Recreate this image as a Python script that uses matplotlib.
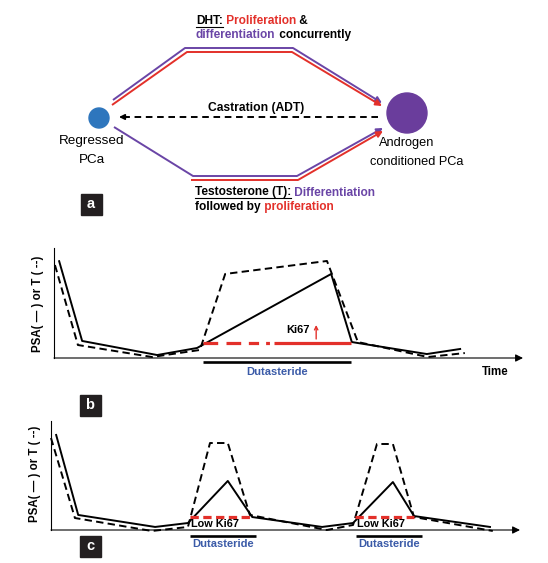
import matplotlib
matplotlib.use('Agg')
import matplotlib.pyplot as plt
from matplotlib.patches import Circle, Rectangle

plt.rcParams['font.family'] = ['Liberation Sans', 'DejaVu Sans']

# ---- panel a: schematic paths (pixel units of the panel) ----
dht_purple_x = [113, 185, 293, 382]
dht_purple_y = [100, 48, 48, 103]
dht_red_x = [112, 187, 292, 382]
dht_red_y = [105, 52, 52, 106]
t_purple_x = [114, 193, 297, 383]
t_purple_y = [127, 176, 176, 128]
t_red_x = [191, 298, 383]
t_red_y = [180, 180, 131]
adt_x = [378, 119]
adt_y = [117, 117]

# ---- panel b: single dutasteride course ----
b_psa_t = [1.1, 6.0, 22.0, 30.5, 59.1, 63.5, 79.5, 86.6]
b_psa_v = [88, 15.5, 2.7, 9.1, 76.4, 14.5, 3.6, 8.2]
b_t_t = [0.2, 5.1, 20.9, 31.1, 36.5, 58.2, 64.8, 79.7, 87.6]
b_t_v = [84.5, 11.8, 0.9, 7.3, 76.4, 88.2, 14.5, 0.9, 4.5]
b_duta = (31.8, 63.3)
b_ki67_switch = 46.9
b_ki67_level = 13.6

# ---- panel c: intermittent dutasteride ----
c_psa_t = [1.1, 5.8, 22.2, 29.2, 37.7, 42.9, 57.8, 64.4, 72.9, 77.4, 93.6]
c_psa_v = [87.2, 13.8, 2.8, 6.4, 45.0, 11.9, 2.8, 6.4, 44.0, 12.8, 2.8]
c_t_t = [0, 5.1, 21.5, 29.2, 33.9, 37.7, 42.4, 58.8, 64.4, 69.5, 72.9, 77.4, 94.2]
c_t_v = [84.4, 11.0, -0.9, 2.8, 79.8, 79.8, 13.8, 0, 4.6, 78.9, 78.9, 11.9, -0.9]
c_duta = [(29.6, 43.7), (65.0, 79.0)]
c_ki67 = [(29.6, 42.9), (64.8, 77.4)]
c_ki67_level = 11.9

purple = '#6a45a6'
red = '#e3302a'
duta_blue = '#3b5ba8'
W, H = 548, 563

fig = plt.figure(figsize=(W / 100, H / 100), dpi=100)
fig.patch.set_facecolor('white')
canvas = fig.add_axes([0, 0, 1, 1])
canvas.set_xlim(0, W)
canvas.set_ylim(H, 0)
canvas.axis('off')

# paths with arrowheads on the last segment
def arrow_path(xs, ys, color):
    canvas.plot(xs[:-1], ys[:-1], color=color, lw=1.4, solid_capstyle='butt')
    canvas.annotate('', xy=(xs[-1], ys[-1]), xytext=(xs[-2], ys[-2]),
                    arrowprops=dict(arrowstyle='-|>', color=color, lw=1.4,
                                    mutation_scale=9, shrinkA=0, shrinkB=0))

arrow_path(dht_purple_x, dht_purple_y, purple)
arrow_path(dht_red_x, dht_red_y, red)
arrow_path(t_purple_x, t_purple_y, purple)
arrow_path(t_red_x, t_red_y, red)

canvas.plot([adt_x[0], adt_x[1] + 6], adt_y, color='black', lw=1.4, dashes=(3.4, 2.4))
canvas.annotate('', xy=(adt_x[1], adt_y[1]), xytext=(adt_x[1] + 7, adt_y[1]),
                arrowprops=dict(arrowstyle='-|>', color='black', lw=1.2,
                                mutation_scale=8, shrinkA=0, shrinkB=0))

canvas.add_patch(Circle((99, 118), 10, color='#2e76bd'))
canvas.add_patch(Circle((407, 113), 20, color='#6a3d9c'))

canvas.text(92, 141, 'Regressed', fontsize=9.7, ha='center', va='center')
canvas.text(92, 160, 'PCa', fontsize=9.7, ha='center', va='center')
canvas.text(407, 143, 'Androgen', fontsize=9.2, ha='center', va='center')
canvas.text(417, 162, 'conditioned PCa', fontsize=9.2, ha='center', va='center')
canvas.text(256, 108, 'Castration (ADT)', fontsize=8.7, fontweight='bold',
            ha='center', va='center')

renderer = fig.canvas.get_renderer()

def color_line(x, y, parts, size=8.6):
    inv = canvas.transData.inverted()
    for s, c, ul in parts:
        t = canvas.text(x, y, s, color=c, fontsize=size, fontweight='bold',
                        ha='left', va='center')
        bb = t.get_window_extent(renderer)
        x0 = inv.transform((bb.x0, bb.y0))[0]
        x1 = inv.transform((bb.x1, bb.y0))[0]
        if ul:
            canvas.plot([x0, x1], [y + 5, y + 5], color=c, lw=0.8)
        x = x1

color_line(196, 21.5, [('DHT:', 'black', True), (' Proliferation', red, False),
                       (' &', 'black', False)])
color_line(196, 35, [('differentiation', purple, False),
                     (' concurrently', 'black', False)])
color_line(195, 192.5, [('Testosterone (T):', 'black', True),
                        (' Differentiation', purple, False)])
color_line(195, 207, [('followed by', 'black', False), (' proliferation', red, False)])

# panel letters
for lab, cx, cy in [('a', 91, 204), ('b', 90, 405), ('c', 90, 546)]:
    canvas.add_patch(Rectangle((cx - 10.5, cy - 10.5), 21, 21, color='#231f20'))
    canvas.text(cx, cy, lab, color='white', fontsize=10.5, fontweight='bold',
                ha='center', va='center')


def setup_axes(rect):
    ax = fig.add_axes(rect)
    ax.set_xlim(0, 100)
    ax.set_ylim(0, 100)
    ax.patch.set_alpha(0)
    for side in ['top', 'right', 'bottom']:
        ax.spines[side].set_visible(False)
    ax.spines['left'].set_linewidth(0.8)
    ax.set_xticks([])
    ax.set_yticks([])
    ax.annotate('', xy=(100, 0), xytext=(0, 0),
                arrowprops=dict(arrowstyle='-|>', color='black', lw=0.8,
                                mutation_scale=11, shrinkA=0, shrinkB=0),
                annotation_clip=False)
    return ax

ylab = 'PSA( \u2014 ) or T ( --)'

# ---- panel b ----
axb = setup_axes([54 / W, (H - 358) / H, 469 / W, 110 / H])
axb.plot(b_psa_t, b_psa_v, color='black', lw=1.4, clip_on=False)
axb.plot(b_t_t, b_t_v, color='black', lw=1.4, dashes=(3.8, 2.2), clip_on=False)
axb.plot([b_duta[0], b_ki67_switch], [b_ki67_level] * 2, color=red, lw=2.3,
         dashes=(4.6, 2.6, 4.6, 2.4, 3.2, 2.2, 1.2, 1.6), clip_on=False)
axb.plot([b_ki67_switch, b_duta[1]], [b_ki67_level] * 2, color=red, lw=2.3,
         solid_capstyle='butt', clip_on=False)
axb.plot(b_duta, [-3.6, -3.6], color='black', lw=1.9, solid_capstyle='butt',
         clip_on=False)
axb.text(sum(b_duta) / 2, -12.7, 'Dutasteride', color=duta_blue, fontsize=8,
         fontweight='bold', ha='center', va='center')
axb.text(94.0, -12.7, 'Time', fontsize=8.3, fontweight='bold', ha='center',
         va='center')
axb.text(52.0, 25.5, 'Ki67', fontsize=8, fontweight='bold', ha='center',
         va='center')
axb.annotate('', xy=(55.9, 30), xytext=(55.9, 17.3),
             arrowprops=dict(arrowstyle='->', color=red, lw=1.0,
                             mutation_scale=6, shrinkA=0, shrinkB=0))
axb.text(-3.4, 49, ylab, rotation=90, fontsize=8.3,
         fontweight='bold', ha='center', va='center')

# ---- panel c ----
axc = setup_axes([51 / W, (H - 530) / H, 469 / W, 109 / H])
axc.plot(c_psa_t, c_psa_v, color='black', lw=1.4, clip_on=False)
axc.plot(c_t_t, c_t_v, color='black', lw=1.4, dashes=(3.8, 2.2), clip_on=False)
for (k0, k1), (d0, d1) in zip(c_ki67, c_duta):
    axc.plot([k0, k1], [c_ki67_level] * 2, color=red, lw=2.3,
             dashes=(2.6, 1.4), clip_on=False)
    axc.plot([d0, d1], [-5.5, -5.5], color='black', lw=1.9,
             solid_capstyle='butt', clip_on=False)
    axc.text((d0 + d1) / 2 - 1.6, 5.5, 'Low Ki67', fontsize=7.8,
             fontweight='bold', ha='center', va='center')
    axc.text((d0 + d1) / 2, -12.5, 'Dutasteride', color=duta_blue, fontsize=8,
             fontweight='bold', ha='center', va='center')
axc.text(-3.4, 52, ylab, rotation=90, fontsize=8.3,
         fontweight='bold', ha='center', va='center')

fig.savefig('out.png', dpi=100, facecolor='white')
